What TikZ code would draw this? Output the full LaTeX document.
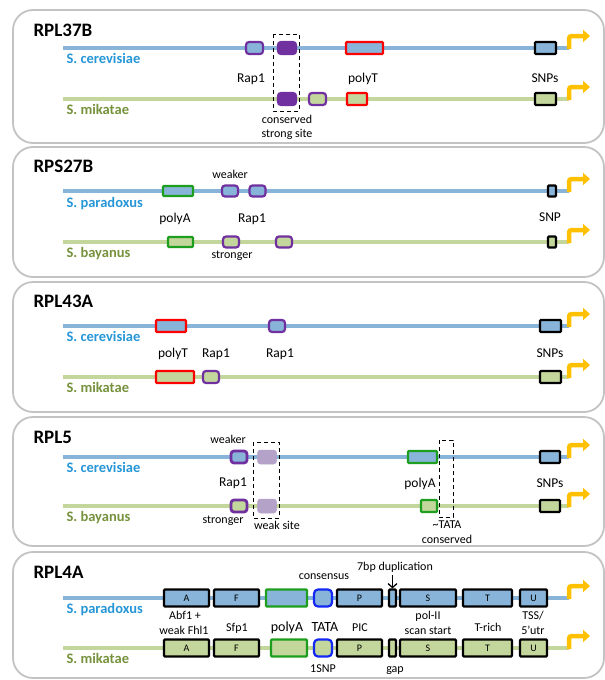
\documentclass[tikz,border=0pt]{standalone}
\usepackage{fontspec}
\setmainfont{Carlito}
\usetikzlibrary{arrows.meta}
\definecolor{lineblue}{RGB}{135,180,216}
\definecolor{linegreen}{RGB}{195,214,155}
\definecolor{textblue}{RGB}{38,150,215}
\definecolor{textgreen}{RGB}{118,146,60}
\definecolor{rap}{RGB}{112,48,160}
\definecolor{weakrap}{RGB}{180,162,200}
\definecolor{polyt}{RGB}{255,0,0}
\definecolor{polya}{RGB}{30,158,30}
\definecolor{tata}{RGB}{20,40,245}
\definecolor{tssorange}{RGB}{255,192,0}
\definecolor{framegray}{RGB}{195,195,195}

\tikzset{
  panel/.style={draw=framegray,line width=1.8pt,rounded corners=20pt},
  seqc/.style={lineblue,line width=4.5pt},
  seqm/.style={linegreen,line width=4.5pt},
  tssarrow/.style={tssorange,line width=4.5pt,-{Triangle[length=7pt,width=12pt]}},
  site/.style={draw,line width=2.2pt,inner sep=0pt,rounded corners=1pt,font=\fontsize{10}{11}\selectfont},
  onc/.style={site,fill=lineblue},
  onm/.style={site,fill=linegreen},
  rapsite/.style={draw=rap,rounded corners=3pt},
  gene/.style={anchor=base west,font=\fontsize{19}{22}\selectfont\bfseries},
  species/.style={anchor=base west,font=\fontsize{14.5}{17}\selectfont\bfseries},
  lab/.style={anchor=base,font=\fontsize{13.5}{16}\selectfont},
  note/.style={anchor=base,font=\fontsize{12}{14}\selectfont},
  conserve/.style={draw,dashed,line width=1pt,dash pattern=on 4pt off 3pt}
}

\begin{document}
\begin{tikzpicture}[x=1pt,y=-1pt]
  \useasboundingbox (0,0) rectangle (605,680);

  % panels, sequences and promoters
  \foreach \t/\b in {10/143,147/277,282/412,417/546,552/678}
    \draw[panel] (13,\t) rectangle (604,\b);
  \foreach \i/\yc/\ym in {1/48/99,2/191/242,3/326/377,4/457/506,5/598/648} {
    \coordinate (s\i c) at (63,\yc);  \coordinate (e\i c) at (569,\yc);
    \coordinate (s\i m) at (63,\ym);  \coordinate (e\i m) at (569,\ym);
    \draw[seqc] (s\i c) -- (e\i c);
    \draw[seqm] (s\i m) -- (e\i m);
    \draw[tssarrow] (e\i c) ++(0,1) -- ++(0,-7) .. controls +(0,-6) and +(-6,0) .. ++(6,-6) -- ++(15,0);
    \draw[tssarrow] (e\i m) ++(0,1) -- ++(0,-7) .. controls +(0,-6) and +(-6,0) .. ++(6,-6) -- ++(15,0);
  }

  % RPL37B
  \node[gene] (g1) at (30,36) {RPL37B};
  \node[species,textblue] (sp1c) at (63,63.5) {S. cerevisiae};
  \node[species,textgreen] (sp1m) at (63,114) {S. mikatae};
  \draw[conserve] (273,34) rectangle (299,111);
  \node[onc,rapsite,minimum width=17pt,minimum height=12pt] (p1rapc) at (254.5,48) {};
  \node[site,rapsite,fill=rap,minimum width=18pt,minimum height=12pt] (p1strongc) at (287,48) {};
  \node[onc,draw=polyt,minimum width=37pt,minimum height=12pt] (p1polytc) at (364.5,48) {};
  \node[onc,minimum width=21pt,minimum height=12pt] (p1snpc) at (545.5,48) {};
  \node[site,rapsite,fill=rap,minimum width=18pt,minimum height=12pt] (p1strongm) at (287,99) {};
  \node[onm,rapsite,minimum width=17pt,minimum height=12pt] (p1rapm) at (317.5,99) {};
  \node[onm,draw=polyt,minimum width=20pt,minimum height=12pt] (p1polytm) at (357,99) {};
  \node[onm,minimum width=21pt,minimum height=12pt] (p1snpm) at (545.5,99) {};
  \node[lab] (l1rap) at (251,82) {Rap1};
  \node[lab] (l1polyt) at (363,82) {polyT};
  \node[lab] (l1snp) at (545,82) {SNPs};
  \node[note] (l1cons) at (287,123) {conserved};
  \node[note] (l1strong) at (287,137) {strong site};

  % RPS27B
  \node[gene] (g2) at (30,172) {RPS27B};
  \node[species,textblue] (sp2c) at (63,207) {S. paradoxus};
  \node[species,textgreen] (sp2m) at (63,257) {S. bayanus};
  \node[onc,draw=polya,minimum width=30pt,minimum height=10pt] (p2polyac) at (178,191) {};
  \node[onc,rapsite,minimum width=16pt,minimum height=11pt] (p2rapc) at (230,191) {};
  \node[onc,rapsite,minimum width=16pt,minimum height=11pt] (p2rapcb) at (257.5,191) {};
  \node[onc,minimum width=8pt,minimum height=11pt] (p2snpc) at (552,191) {};
  \node[onm,draw=polya,minimum width=25pt,minimum height=10pt] (p2polyam) at (180.5,242) {};
  \node[onm,rapsite,minimum width=16pt,minimum height=11pt] (p2rapm) at (231,242) {};
  \node[onm,rapsite,minimum width=16pt,minimum height=11pt] (p2rapmb) at (284,242) {};
  \node[onm,minimum width=8pt,minimum height=11pt] (p2snpm) at (552,242) {};
  \node[note] (l2weak) at (230,178) {weaker};
  \node[lab] (l2polya) at (175,222) {polyA};
  \node[lab] (l2rap) at (252,222) {Rap1};
  \node[lab] (l2snp) at (550,221) {SNP};
  \node[note] (l2strong) at (232,258) {stronger};

  % RPL43A
  \node[gene] (g3) at (30,307) {RPL43A};
  \node[species,textblue] (sp3c) at (63,341.5) {S. cerevisiae};
  \node[species,textgreen] (sp3m) at (63,392) {S. mikatae};
  \node[onc,draw=polyt,minimum width=30pt,minimum height=12pt] (p3polytc) at (171,326) {};
  \node[onc,rapsite,minimum width=16pt,minimum height=12pt] (p3rapc) at (277,326) {};
  \node[onc,minimum width=21pt,minimum height=12pt] (p3snpc) at (550.5,326) {};
  \node[onm,draw=polyt,minimum width=38pt,minimum height=12pt] (p3polytm) at (175,377) {};
  \node[onm,rapsite,minimum width=16pt,minimum height=12pt] (p3rapm) at (211,377) {};
  \node[onm,minimum width=21pt,minimum height=12pt] (p3snpm) at (550.5,377) {};
  \node[lab] (l3polyt) at (173,357) {polyT};
  \node[lab] (l3rapa) at (216,357) {Rap1};
  \node[lab] (l3rapb) at (280,357) {Rap1};
  \node[lab] (l3snp) at (550,357) {SNPs};

  % RPL5
  \node[gene] (g4) at (30,443) {RPL5};
  \node[species,textblue] (sp4c) at (63,472.5) {S. cerevisiae};
  \node[species,textgreen] (sp4m) at (63,521) {S. bayanus};
  \draw[conserve] (253,442) rectangle (279,518);
  \draw[conserve] (439,440) rectangle (453,517);
  \node[onc,rapsite,line width=2.8pt,minimum width=16pt,minimum height=12pt] (p4rapc) at (239,457) {};
  \node[site,draw=weakrap,fill=weakrap,line width=0.5pt,rounded corners=3pt,minimum width=19pt,minimum height=14pt] (p4weakc) at (267,457) {};
  \node[onc,draw=polya,minimum width=29pt,minimum height=12pt] (p4polyac) at (422.5,457) {};
  \node[onc,minimum width=20pt,minimum height=12pt] (p4snpc) at (550,457) {};
  \node[onm,rapsite,line width=2.8pt,minimum width=16pt,minimum height=12pt] (p4rapm) at (239,506) {};
  \node[site,draw=weakrap,fill=weakrap,line width=0.5pt,rounded corners=3pt,minimum width=19pt,minimum height=14pt] (p4weakm) at (267,506) {};
  \node[onm,draw=polya,minimum width=16pt,minimum height=12pt] (p4polyam) at (429,506) {};
  \node[onm,minimum width=20pt,minimum height=12pt] (p4snpm) at (550,506) {};
  \node[note] (l4weak) at (228,443) {weaker};
  \node[lab] (l4rap) at (233,486) {Rap1};
  \node[note] (l4strong) at (223,523) {stronger};
  \node[note] (l4weaksite) at (277,529) {weak site};
  \node[lab] (l4polya) at (420,487) {polyA};
  \node[lab] (l4snp) at (550,487) {SNPs};
  \node[note] (l4tata) at (447,528) {\textasciitilde TATA};
  \node[note] (l4cons) at (447,543) {conserved};

  % RPL4A
  \node[gene] (g5) at (30,578) {RPL4A};
  \node[species,textblue] (sp5c) at (63,613.5) {S. paradoxus};
  \node[species,textgreen] (sp5m) at (63,663) {S. mikatae};
  \node[onc,minimum width=45pt,minimum height=17pt] (p5ac) at (186.5,598) {A};
  \node[onc,minimum width=45pt,minimum height=17pt] (p5fc) at (236.5,598) {F};
  \node[onc,draw=polya,minimum width=41pt,minimum height=17pt] (p5polyac) at (286.5,598) {};
  \node[onc,draw=tata,rounded corners=4pt,minimum width=18pt,minimum height=17pt] (p5tatac) at (323,598) {};
  \node[onc,minimum width=45pt,minimum height=17pt] (p5pc) at (359.5,598) {P};
  \node[onc,minimum width=7pt,minimum height=17pt] (p5dupc) at (392.5,598) {};
  \node[onc,minimum width=56pt,minimum height=17pt] (p5sc) at (428,598) {S};
  \node[onc,minimum width=49pt,minimum height=17pt] (p5tc) at (487.5,598) {T};
  \node[onc,minimum width=27pt,minimum height=17pt] (p5uc) at (533.5,598) {U};
  \node[onm,minimum width=45pt,minimum height=17pt] (p5am) at (186.5,648) {A};
  \node[onm,minimum width=45pt,minimum height=17pt] (p5fm) at (236.5,648) {F};
  \node[onm,draw=polya,minimum width=36pt,minimum height=17pt] (p5polyam) at (289,648) {};
  \node[onm,draw=tata,rounded corners=4pt,minimum width=18pt,minimum height=17pt] (p5tatam) at (323,648) {};
  \node[onm,minimum width=45pt,minimum height=17pt] (p5pm) at (359.5,648) {P};
  \node[onm,minimum width=7pt,minimum height=17pt] (p5gapm) at (392.5,648) {};
  \node[onm,minimum width=56pt,minimum height=17pt] (p5sm) at (428,648) {S};
  \node[onm,minimum width=49pt,minimum height=17pt] (p5tm) at (487.5,648) {T};
  \node[onm,minimum width=27pt,minimum height=17pt] (p5um) at (533.5,648) {U};
  \node[note] (l5dup) at (395,570) {7bp duplication};
  \draw[line width=1.3pt,-{Straight Barb[length=4pt,width=9pt]}] (l5dup.south -| p5dupc) -- (p5dupc.north);
  \node[note] (l5cons) at (324,579) {consensus};
  \node[note] (l5abf) at (185,619) {Abf1 +};
  \node[note] (l5fhl) at (184,634) {weak Fhl1};
  \node[note] (l5sfp) at (237,631) {Sfp1};
  \node[lab,font=\fontsize{14}{16}\selectfont] (l5polya) at (287,631) {polyA};
  \node[lab,font=\fontsize{14}{16}\selectfont] (l5tata) at (325,631) {TATA};
  \node[note] (l5pic) at (360,631) {PIC};
  \node[note] (l5pol) at (428,619) {pol-II};
  \node[note] (l5scan) at (428,634) {scan start};
  \node[note] (l5trich) at (488,631) {T-rich};
  \node[note] (l5tss) at (533,619) {TSS/};
  \node[note] (l5utr) at (533,634) {5’utr};
  \node[note] (l5snp) at (323,672) {1SNP};
  \node[note] (l5gap) at (395,672) {gap};
\end{tikzpicture}
\end{document}
